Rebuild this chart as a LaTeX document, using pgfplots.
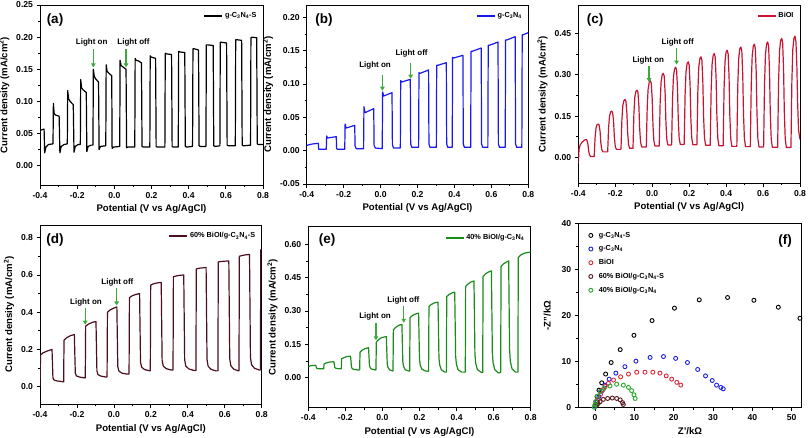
\documentclass[border=0pt]{standalone}
\usepackage{fontspec}
\setmainfont{Liberation Sans}
\usepackage{pgfplots}
\pgfplotsset{compat=1.18}
\usetikzlibrary{arrows.meta}

\definecolor{cblue}{RGB}{25,25,235}
\definecolor{cred}{RGB}{200,20,50}
\definecolor{cbrown}{RGB}{75,15,30}
\definecolor{cgreen}{RGB}{25,140,25}
\definecolor{carrow}{RGB}{60,170,60}
\definecolor{fblue}{RGB}{30,30,230}
\definecolor{fred}{RGB}{215,40,60}
\definecolor{fbrown}{RGB}{90,20,30}
\definecolor{fgreen}{RGB}{40,170,40}

\newcommand\tickfont{\fontsize{8.6}{9}\selectfont\bfseries}
\newcommand\labfont{\fontsize{9.6}{10}\selectfont\bfseries}
\newcommand\legfont{\fontsize{7.3}{8}\selectfont\bfseries}
\newcommand\annfont{\fontsize{8}{9}\selectfont\bfseries}
\newcommand\panfont{\fontsize{13.5}{14}\selectfont\bfseries}

\tikzset{arr/.style={carrow, line width=1.3pt, -{Triangle[length=4pt,width=4.5pt]}}}

\pgfplotsset{
  base/.style={scale only axis, tick align=outside, tick pos=left, minor tick num=1,
    major tick length=3.5pt, minor tick length=2pt,
    tick style={black, line width=0.8pt}, axis line style={line width=0.9pt},
    tick label style={font=\tickfont}, label style={font=\labfont},
    scaled ticks=false, /pgf/number format/assume math mode=true},
  pec/.style={base, xmin=-0.4, xmax=0.8, xtick={-0.4,-0.2,0,0.2,0.4,0.6,0.8},
    x tick label style={/pgf/number format/.cd, fixed, fixed zerofill, precision=1, /tikz/.cd},
    xlabel={Potential (V vs Ag/AgCl)}, ylabel={Current density (mA/cm\textsuperscript{2})},
    legend style={draw=none, fill=none, at={(0.985,0.975)}, anchor=north east, font=\legfont, inner sep=1pt},
    legend image code/.code={\draw[##1, line width=1.4pt] (0pt,0pt) -- (18pt,0pt);},
    every axis plot/.append style={line width=1.2pt, line join=round}},
  y2/.style={y tick label style={/pgf/number format/.cd, fixed, fixed zerofill, precision=2, /tikz/.cd}},
  y1/.style={y tick label style={/pgf/number format/.cd, fixed, fixed zerofill, precision=1, /tikz/.cd}},
}

\begin{document}
\begin{tikzpicture}
\useasboundingbox (0,0) rectangle (808pt,-437pt);

% (a)
\begin{axis}[pec, y2, at={(40pt,-185pt)}, width=223pt, height=180pt,
  ymin=-0.03, ymax=0.25, ytick={0,0.05,0.1,0.15,0.2,0.25}]
\addplot[black] coordinates {
(-0.400,0.055) (-0.378,0.057) (-0.375,0.020) (-0.368,0.029) (-0.355,0.033) (-0.330,0.034)
(-0.328,0.097) (-0.324,0.082) (-0.318,0.079) (-0.297,0.077) (-0.293,0.020) (-0.286,0.030) (-0.270,0.033) (-0.253,0.034)
(-0.251,0.117) (-0.246,0.104) (-0.238,0.100) (-0.221,0.095) (-0.217,0.021) (-0.210,0.030) (-0.195,0.033) (-0.183,0.033)
(-0.181,0.134) (-0.176,0.121) (-0.168,0.118) (-0.151,0.114) (-0.148,0.022) (-0.141,0.030) (-0.125,0.032) (-0.115,0.032)
(-0.113,0.150) (-0.108,0.139) (-0.100,0.135) (-0.085,0.130) (-0.082,0.025) (-0.075,0.030) (-0.046,0.031)
(-0.044,0.157) (-0.039,0.147) (-0.030,0.144) (-0.014,0.140) (-0.012,0.027) (-0.005,0.029) (0.029,0.030)
(0.031,0.164) (0.036,0.156) (0.045,0.154) (0.063,0.150) (0.066,0.028) (0.073,0.029) (0.110,0.029)
(0.112,0.167) (0.117,0.164) (0.130,0.163) (0.146,0.160) (0.149,0.030) (0.156,0.029) (0.191,0.029)
(0.193,0.171) (0.198,0.169) (0.222,0.167) (0.225,0.030) (0.232,0.029) (0.272,0.029)
(0.274,0.175) (0.280,0.174) (0.308,0.173) (0.311,0.030) (0.318,0.029) (0.344,0.029)
(0.346,0.178) (0.352,0.177) (0.379,0.176) (0.382,0.030) (0.389,0.029) (0.421,0.030)
(0.423,0.182) (0.429,0.182) (0.453,0.180) (0.456,0.031) (0.463,0.030) (0.493,0.030)
(0.495,0.188) (0.501,0.188) (0.532,0.187) (0.535,0.031) (0.542,0.030) (0.568,0.031)
(0.570,0.192) (0.576,0.192) (0.604,0.191) (0.607,0.032) (0.614,0.031) (0.651,0.031)
(0.653,0.196) (0.659,0.196) (0.685,0.195) (0.688,0.032) (0.695,0.031) (0.733,0.032)
(0.735,0.199) (0.741,0.200) (0.766,0.199) (0.769,0.034) (0.776,0.033) (0.800,0.033)
};
\addlegendentry{g-C\textsubscript{3}N\textsubscript{4}-S}
\node[font=\annfont] at (axis cs:-0.122,0.192) {Light on};
\node[font=\annfont] at (axis cs:0.103,0.192) {Light off};
\draw[arr] (axis cs:-0.113,0.181) -- (axis cs:-0.113,0.153);
\draw[arr] (axis cs:0.063,0.181) -- (axis cs:0.063,0.153);
\end{axis}

% (b)
\begin{axis}[pec, y2, at={(306.7pt,-184pt)}, width=221.6pt, height=179pt,
  ymin=-0.05, ymax=0.2185, ytick={-0.05,0,0.05,0.1,0.15,0.2}]
\addplot[cblue] coordinates {
(-0.400,0.008) (-0.370,0.010) (-0.337,0.011) (-0.335,0.002) (-0.294,0.002)
(-0.292,0.022) (-0.287,0.019) (-0.240,0.021) (-0.238,0.003) (-0.232,0.002) (-0.194,0.002)
(-0.192,0.040) (-0.186,0.034) (-0.140,0.038) (-0.138,0.007) (-0.132,0.003) (-0.092,0.003)
(-0.090,0.066) (-0.084,0.057) (-0.037,0.063) (-0.035,0.008) (-0.029,0.004) (0.009,0.003)
(0.011,0.088) (0.017,0.082) (0.062,0.087) (0.064,0.009) (0.070,0.004) (0.107,0.004)
(0.109,0.105) (0.115,0.103) (0.161,0.107) (0.163,0.010) (0.169,0.005) (0.206,0.005)
(0.208,0.117) (0.214,0.116) (0.260,0.121) (0.262,0.010) (0.268,0.005) (0.302,0.005)
(0.304,0.128) (0.310,0.128) (0.356,0.132) (0.358,0.010) (0.364,0.005) (0.388,0.005)
(0.390,0.140) (0.396,0.139) (0.446,0.143) (0.448,0.010) (0.454,0.005) (0.488,0.005)
(0.490,0.149) (0.496,0.149) (0.545,0.154) (0.547,0.010) (0.553,0.005) (0.581,0.005)
(0.583,0.158) (0.589,0.158) (0.636,0.163) (0.638,0.010) (0.644,0.005) (0.675,0.005)
(0.677,0.166) (0.683,0.166) (0.729,0.171) (0.731,0.010) (0.737,0.005) (0.765,0.005)
(0.767,0.174) (0.773,0.174) (0.800,0.177)
};
\addlegendentry{g-C\textsubscript{3}N\textsubscript{4}}
\node[font=\annfont] at (axis cs:-0.03,0.1285) {Light on};
\node[font=\annfont] at (axis cs:0.168,0.146) {Light off};
\draw[arr] (axis cs:0.010,0.114) -- (axis cs:0.010,0.090);
\draw[arr] (axis cs:0.163,0.132) -- (axis cs:0.163,0.108);
\end{axis}

% (c)
\begin{axis}[pec, y2, at={(578.3pt,-183pt)}, width=221.7pt, height=178pt,
  ymin=-0.093, ymax=0.553, ytick={0,0.15,0.3,0.45}]
\addplot[cred] coordinates {
(-0.400,-0.022) (-0.396,0.030) (-0.390,0.045) (-0.380,0.055) (-0.366,0.063) (-0.358,0.065)
(-0.353,0.0625) (-0.348,0.048) (-0.344,0.024) (-0.339,0.008) (-0.333,0.003)
(-0.314,0.003) (-0.309,0.074) (-0.304,0.107) (-0.298,0.119) (-0.292,0.121)
(-0.287,0.117) (-0.282,0.093) (-0.278,0.053) (-0.273,0.028) (-0.267,0.020)
(-0.241,0.020) (-0.236,0.109) (-0.231,0.150) (-0.225,0.165) (-0.219,0.168)
(-0.214,0.162) (-0.209,0.129) (-0.205,0.075) (-0.200,0.040) (-0.194,0.029)
(-0.169,0.029) (-0.164,0.138) (-0.159,0.188) (-0.153,0.206) (-0.147,0.210)
(-0.142,0.203) (-0.137,0.160) (-0.133,0.091) (-0.128,0.047) (-0.122,0.033)
(-0.104,0.033) (-0.099,0.160) (-0.094,0.219) (-0.088,0.240) (-0.082,0.244)
(-0.077,0.236) (-0.072,0.186) (-0.068,0.106) (-0.063,0.055) (-0.057,0.038)
(-0.032,0.038) (-0.027,0.182) (-0.022,0.249) (-0.016,0.273) (-0.010,0.278)
(-0.005,0.269) (0.000,0.212) (0.004,0.119) (0.009,0.060) (0.015,0.041)
(0.038,0.041) (0.043,0.199) (0.048,0.273) (0.054,0.300) (0.060,0.305)
(0.065,0.295) (0.070,0.232) (0.074,0.131) (0.079,0.066) (0.085,0.045)
(0.105,0.045) (0.110,0.214) (0.115,0.293) (0.121,0.321) (0.127,0.327)
(0.132,0.316) (0.137,0.249) (0.141,0.139) (0.146,0.069) (0.152,0.047)
(0.173,0.047) (0.178,0.227) (0.183,0.311) (0.189,0.341) (0.195,0.347)
(0.200,0.335) (0.205,0.263) (0.209,0.145) (0.214,0.070) (0.220,0.046)
(0.242,0.046) (0.247,0.237) (0.252,0.327) (0.258,0.359) (0.264,0.365)
(0.269,0.352) (0.274,0.275) (0.278,0.150) (0.283,0.070) (0.289,0.044)
(0.314,0.044) (0.319,0.244) (0.324,0.337) (0.330,0.370) (0.336,0.377)
(0.341,0.364) (0.346,0.283) (0.350,0.153) (0.355,0.069) (0.361,0.042)
(0.384,0.042) (0.389,0.250) (0.394,0.347) (0.400,0.382) (0.406,0.389)
(0.411,0.375) (0.416,0.291) (0.420,0.155) (0.425,0.068) (0.431,0.040)
(0.458,0.040) (0.463,0.257) (0.468,0.358) (0.474,0.394) (0.480,0.401)
(0.485,0.387) (0.490,0.300) (0.494,0.159) (0.499,0.068) (0.505,0.039)
(0.531,0.039) (0.536,0.262) (0.541,0.366) (0.547,0.404) (0.553,0.411)
(0.558,0.396) (0.563,0.307) (0.567,0.161) (0.572,0.068) (0.578,0.038)
(0.603,0.038) (0.608,0.267) (0.613,0.373) (0.619,0.411) (0.625,0.419)
(0.630,0.404) (0.635,0.312) (0.639,0.163) (0.644,0.068) (0.650,0.037)
(0.679,0.037) (0.684,0.274) (0.689,0.385) (0.695,0.424) (0.701,0.432)
(0.706,0.416) (0.711,0.321) (0.715,0.167) (0.720,0.068) (0.726,0.036)
(0.751,0.036) (0.756,0.278) (0.761,0.392) (0.767,0.432) (0.773,0.440)
(0.778,0.420) (0.783,0.330) (0.787,0.200) (0.792,0.100) (0.800,0.065)
};
\addlegendentry{BiOI}
\node[font=\annfont] at (axis cs:-0.021,0.350) {Light on};
\node[font=\annfont] at (axis cs:0.138,0.416) {Light off};
\draw[arr] (axis cs:-0.017,0.331) -- (axis cs:-0.017,0.273);
\draw[arr] (axis cs:0.132,0.396) -- (axis cs:0.132,0.337);
\end{axis}

% (d)
\begin{axis}[pec, y1, at={(40pt,-404.3pt)}, width=221.7pt, height=179.3pt,
  ymin=-0.0945, ymax=0.868, ytick={0,0.2,0.4,0.6,0.8}]
\addplot[cbrown] coordinates {
(-0.400,0.000) (-0.397,0.170) (-0.385,0.181) (-0.360,0.192) (-0.335,0.200)
(-0.330,0.047) (-0.324,0.036) (-0.308,0.031) (-0.283,0.028) (-0.272,0.026)
(-0.270,0.250) (-0.255,0.2635) (-0.235,0.274) (-0.214,0.280)
(-0.209,0.074) (-0.203,0.058) (-0.187,0.052) (-0.162,0.048) (-0.155,0.047)
(-0.153,0.325) (-0.138,0.336) (-0.118,0.345) (-0.097,0.350)
(-0.092,0.085) (-0.086,0.065) (-0.070,0.057) (-0.045,0.052) (-0.037,0.052)
(-0.035,0.400) (-0.020,0.4126) (0.000,0.4224) (0.016,0.428)
(0.021,0.108) (0.027,0.084) (0.043,0.073) (0.068,0.068) (0.082,0.068)
(0.084,0.478) (0.099,0.488) (0.119,0.4956) (0.139,0.500)
(0.144,0.132) (0.150,0.105) (0.166,0.092) (0.191,0.086) (0.197,0.086)
(0.199,0.545) (0.214,0.552) (0.234,0.557) (0.256,0.560)
(0.261,0.142) (0.267,0.111) (0.283,0.097) (0.308,0.090) (0.320,0.090)
(0.322,0.590) (0.337,0.5945) (0.357,0.598) (0.378,0.600)
(0.383,0.144) (0.389,0.111) (0.405,0.096) (0.430,0.088) (0.444,0.087)
(0.446,0.632) (0.461,0.636) (0.481,0.638) (0.499,0.640)
(0.504,0.146) (0.510,0.110) (0.526,0.093) (0.551,0.085) (0.563,0.085)
(0.565,0.670) (0.580,0.672) (0.600,0.674) (0.622,0.675)
(0.627,0.150) (0.633,0.112) (0.649,0.094) (0.674,0.085) (0.677,0.085)
(0.679,0.700) (0.694,0.7045) (0.714,0.708) (0.734,0.710)
(0.739,0.158) (0.745,0.118) (0.761,0.099) (0.786,0.090) (0.793,0.090)
(0.795,0.735) (0.800,0.736)
};
\addlegendentry{60\% BiOI/g-C\textsubscript{3}N\textsubscript{4}-S}
\node[font=\annfont] at (axis cs:-0.151,0.451) {Light on};
\node[font=\annfont] at (axis cs:0.019,0.558) {Light off};
\draw[arr] (axis cs:-0.155,0.424) -- (axis cs:-0.155,0.333);
\draw[arr] (axis cs:0.015,0.528) -- (axis cs:0.015,0.436);
\end{axis}

% (e)
\begin{axis}[pec, y2, at={(308.3pt,-407.7pt)}, width=222.4pt, height=181pt,
  ymin=-0.135, ymax=0.679, ytick={0,0.15,0.3,0.45,0.6}]
\addplot[cgreen] coordinates {
(-0.400,0.050) (-0.385,0.054) (-0.360,0.056) (-0.355,0.043) (-0.351,0.041) (-0.342,0.040) (-0.317,0.040)
(-0.315,0.062) (-0.303,0.0665) (-0.287,0.070) (-0.262,0.072)
(-0.257,0.046) (-0.253,0.043) (-0.244,0.041) (-0.222,0.040)
(-0.220,0.085) (-0.208,0.090) (-0.192,0.095) (-0.172,0.097)
(-0.167,0.047) (-0.163,0.041) (-0.154,0.037) (-0.135,0.035) (-0.123,0.035)
(-0.121,0.115) (-0.109,0.124) (-0.093,0.131) (-0.075,0.135)
(-0.070,0.055) (-0.066,0.045) (-0.057,0.038) (-0.038,0.035) (-0.035,0.035)
(-0.033,0.160) (-0.021,0.171) (-0.005,0.180) (0.021,0.185)
(0.026,0.061) (0.030,0.046) (0.039,0.035) (0.057,0.030)
(0.059,0.215) (0.071,0.226) (0.087,0.235) (0.105,0.240)
(0.110,0.072) (0.114,0.051) (0.123,0.036) (0.142,0.030) (0.147,0.030)
(0.149,0.270) (0.161,0.279) (0.177,0.286) (0.195,0.290)
(0.200,0.082) (0.204,0.056) (0.213,0.038) (0.232,0.030) (0.249,0.029)
(0.251,0.320) (0.263,0.329) (0.279,0.336) (0.300,0.340)
(0.305,0.088) (0.309,0.057) (0.318,0.035) (0.337,0.025) (0.345,0.025)
(0.347,0.365) (0.359,0.374) (0.375,0.381) (0.390,0.385)
(0.395,0.097) (0.399,0.061) (0.408,0.036) (0.427,0.025) (0.447,0.025)
(0.449,0.410) (0.461,0.421) (0.477,0.430) (0.494,0.435)
(0.499,0.107) (0.503,0.066) (0.512,0.037) (0.531,0.025) (0.541,0.023)
(0.543,0.455) (0.555,0.466) (0.571,0.475) (0.588,0.480)
(0.593,0.114) (0.597,0.068) (0.606,0.036) (0.625,0.022) (0.638,0.023)
(0.640,0.500) (0.652,0.511) (0.668,0.520) (0.681,0.525)
(0.686,0.125) (0.690,0.075) (0.699,0.040) (0.718,0.025) (0.731,0.025)
(0.733,0.540) (0.745,0.551) (0.765,0.560) (0.800,0.565)
};
\addlegendentry{40\% BiOI/g-C\textsubscript{3}N\textsubscript{4}}
\node[font=\annfont] at (axis cs:-0.040,0.2775) {Light on};
\node[font=\annfont] at (axis cs:0.113,0.3495) {Light off};
\draw[arr] (axis cs:-0.035,0.2445) -- (axis cs:-0.035,0.168);
\draw[arr] (axis cs:0.115,0.3225) -- (axis cs:0.115,0.247);
\end{axis}

% (f)
\begin{axis}[base, at={(578.3pt,-407.7pt)}, width=223.4pt, height=184.4pt,
  xmin=-4.25, xmax=52.55, ymin=0, ymax=40,
  xtick={0,10,20,30,40,50}, ytick={0,10,20,30,40},
  xlabel={Z'/kΩ}, ylabel={-Z'{}'/kΩ}, ylabel shift=4pt,
  legend style={draw=none, fill=none, at={(0.015,0.975)}, anchor=north west, font=\legfont, row sep=3pt},
  legend cell align=left,
  legend image code/.code={\path[draw=none] (0pt,0pt) -- (12pt,0pt); \draw[#1, only marks] plot coordinates {(6pt,0pt)};},
  every axis plot/.append style={only marks, mark=o, mark size=2pt, line width=0.9pt}]
\addplot[black] coordinates {
(0.0,0.5) (0.2,1.3) (0.5,2.4) (1.0,3.8) (1.7,5.4) (2.7,7.3) (4.1,9.8) (6.4,12.6)
(9.9,15.7) (14.5,18.9) (20.2,21.6) (26.5,23.4) (33.7,23.9) (40.4,23.3) (46.6,21.8) (52.1,19.4)
};
\addlegendentry{g-C\textsubscript{3}N\textsubscript{4}-S}
\addplot[fblue] coordinates {
(0.1,0.3) (0.5,1.3) (1.0,2.4) (1.7,3.6) (2.5,4.9) (3.6,6.2) (5.3,7.5) (7.6,8.9) (10.4,10.1)
(14.0,10.9) (17.4,11.1) (20.5,10.7) (23.5,9.8) (26.1,8.3) (28.1,6.9) (29.8,5.9) (30.9,4.9) (32.0,4.4) (32.6,4.1)
};
\addlegendentry{g-C\textsubscript{3}N\textsubscript{4}}
\addplot[fred] coordinates {
(0.3,0.7) (0.8,1.8) (1.4,2.9) (2.0,3.9) (2.6,4.6) (3.4,5.3) (4.7,6.0) (6.5,6.7) (8.5,7.3)
(10.6,7.7) (12.7,7.7) (14.7,7.7) (16.5,7.5) (18.1,6.9) (19.5,6.2) (20.8,5.5) (21.8,4.9)
};
\addlegendentry{BiOI}
\addplot[fbrown] coordinates {
(0.4,0.5) (0.8,0.9) (1.3,1.3) (2.1,1.8) (3.2,2.0) (4.4,2.1) (5.5,2.0) (6.4,1.7) (7.0,1.1) (7.2,0.7)
};
\addlegendentry{60\% BiOI/g-C\textsubscript{3}N\textsubscript{4}-S}
\addplot[fgreen] coordinates {
(-0.2,0.1) (0.0,0.6) (0.2,1.3) (0.6,2.5) (1.3,3.5) (2.3,4.2) (3.8,4.7) (5.5,5.1) (7.2,4.9)
(8.5,4.4) (9.3,3.7) (9.9,2.8) (10.2,2.0)
};
\addlegendentry{40\% BiOI/g-C\textsubscript{3}N\textsubscript{4}}
\end{axis}

\node[font=\panfont] at (55pt,-20pt) {(a)};
\node[font=\panfont] at (324pt,-20pt) {(b)};
\node[font=\panfont] at (595pt,-20pt) {(c)};
\node[font=\panfont] at (55pt,-240pt) {(d)};
\node[font=\panfont] at (327pt,-240pt) {(e)};
\node[font=\panfont] at (785pt,-241pt) {(f)};
\end{tikzpicture}
\end{document}
